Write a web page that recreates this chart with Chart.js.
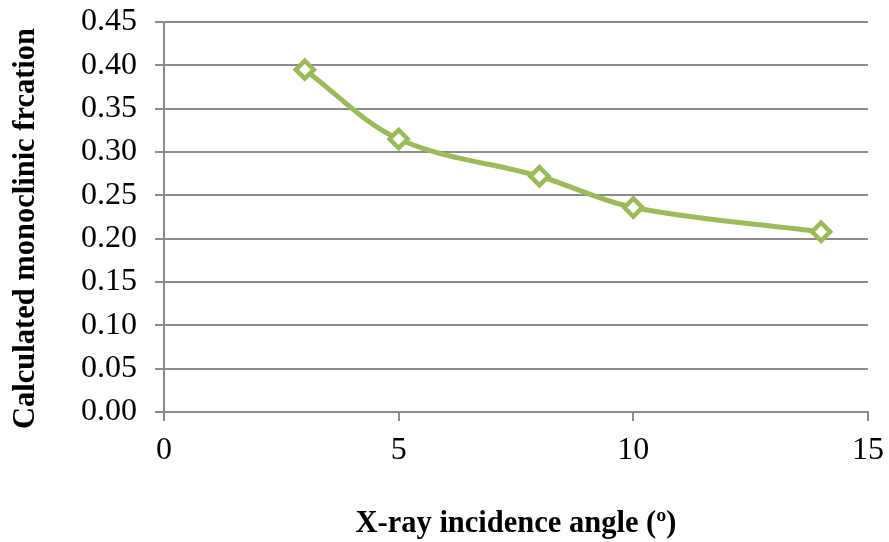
<!DOCTYPE html>
<html>
<head>
<meta charset="utf-8">
<script src="https://cdn.jsdelivr.net/npm/chart.js@4/dist/chart.umd.min.js"></script>
<style>
  html, body { margin: 0; padding: 0; background: #fff; }
  #wrap { width: 889px; height: 542px; }
</style>
</head>
<body>
<div id="wrap"><canvas id="chart" width="889" height="542"></canvas></div>
<script>
// data
const angles = [3, 5, 8, 10, 14];
const fractions = [0.395, 0.315, 0.272, 0.236, 0.208];
const xTicks = [0, 5, 10, 15];
const yTicks = [0, 0.05, 0.10, 0.15, 0.20, 0.25, 0.30, 0.35, 0.40, 0.45];

const serif = '"Liberation Serif", "Times New Roman", serif';
const green = '#9bbb59';
const gridGray = '#8c8c8c';

new Chart(document.getElementById('chart'), {
    type: 'scatter',
    data: {
        datasets: [{
            data: angles.map(function(a, i){ return {x: a, y: fractions[i]}; }),
            showLine: true,
            borderColor: green,
            borderWidth: 5,
            tension: 0.35,
            pointStyle: 'rectRot',
            pointRadius: 9,
            pointHoverRadius: 9,
            pointBackgroundColor: '#ffffff',
            pointBorderColor: green,
            pointBorderWidth: 4.5
        }]
    },
    options: {
        responsive: false,
        animation: false,
        layout: { padding: { left: 0, right: 21, top: 22, bottom: 0 } },
        plugins: { legend: { display: false }, tooltip: { enabled: false } },
        scales: {
            x: {
                type: 'linear',
                min: 0,
                max: 15,
                afterBuildTicks: function(scale){
                    scale.ticks = xTicks.map(function(v){ return {value: v}; });
                },
                afterFit: function(scale){
                    scale.height = 130;
                    scale.paddingLeft = 0;
                    scale.paddingRight = 0;
                },
                grid: {
                    drawOnChartArea: false,
                    drawTicks: true,
                    tickLength: 9,
                    color: gridGray,
                    lineWidth: 2
                },
                border: { display: true, color: gridGray, width: 2 },
                ticks: {
                    color: '#000',
                    padding: 10,
                    maxRotation: 0,
                    font: { family: serif, size: 32 }
                },
                title: {
                    display: true,
                    text: 'X-ray incidence angle (º)',
                    color: '#000',
                    padding: { top: 18, bottom: 0 },
                    font: { family: serif, size: 30.5, weight: 'bold' }
                }
            },
            y: {
                min: 0,
                max: 0.45,
                afterBuildTicks: function(scale){
                    scale.ticks = yTicks.map(function(v){ return {value: v}; });
                },
                afterFit: function(scale){
                    scale.width = 164;
                    scale.paddingTop = 0;
                    scale.paddingBottom = 0;
                },
                grid: {
                    drawTicks: true,
                    tickLength: 9,
                    color: gridGray,
                    lineWidth: 2
                },
                border: { display: true, color: gridGray, width: 2 },
                ticks: {
                    color: '#000',
                    padding: 18,
                    font: { family: serif, size: 32 },
                    callback: function(v){ return Number(v).toFixed(2); }
                },
                title: {
                    display: true,
                    // trailing spaces nudge the label down a little, like the original
                    text: 'Calculated monoclinic frcation\u00a0\u00a0\u00a0',
                    color: '#000',
                    padding: { top: 8, bottom: 4 },
                    font: { family: serif, size: 30.5, weight: 'bold' }
                }
            }
        }
    }
});
</script>
</body>
</html>
